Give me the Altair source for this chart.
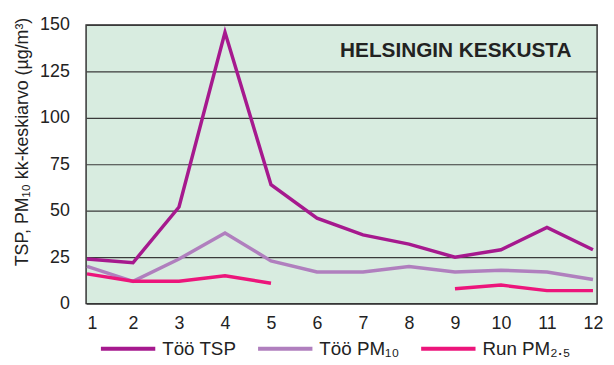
import altair as alt
import pandas as pd

months = list(range(1, 13))
tsp = [24, 22, 52, 146, 64, 46, 37, 32, 25, 29, 41, 29]
pm10 = [20, 12, 24, 38, 23, 17, 17, 20, 17, 18, 17, 13]
pm25 = [16, 12, 12, 15, 11, None, None, None, 8, 10, 7, 7]
series = ["Töö TSP", "Töö PM₁₀", "Run PM₂.₅"]
colors = ["#a6198e", "#b07fbe", "#ec157b"]

rows = []
for name, vals in zip(series, [tsp, pm10, pm25]):
    for m, v in zip(months, vals):
        rows.append({"kk": m, "arvo": v, "sarja": name})
df = pd.DataFrame(rows)

chart = alt.Chart(df).mark_line(strokeWidth=3.5, invalid="break-paths-show-domains").encode(
    x=alt.X("kk:Q", scale=alt.Scale(domain=[0.98, 12.09], nice=False, zero=False),
            axis=alt.Axis(values=months, title=None, grid=False, ticks=False, domain=False,
                          labelFontSize=18, labelPadding=11, labelColor="#222",
                          labelFont="Liberation Sans")),
    y=alt.Y("arvo:Q", scale=alt.Scale(domain=[0, 150], nice=False),
            axis=alt.Axis(values=[0, 25, 50, 75, 100, 125, 150],
                          title="TSP, PM₁₀ kk-keskiarvo (µg/m³)",
                          titleFontSize=18, titleFontWeight="normal", titleColor="#222",
                          titleFont="Liberation Sans", titleX=-64, titleY=118,
                          titleBaseline="middle", titleAlign="center",
                          ticks=False, domain=False, labelFontSize=18, labelPadding=17,
                          labelColor="#222", labelFont="Liberation Sans",
                          gridColor="#3a3a3a", gridWidth=1.2)),
    color=alt.Color("sarja:N", scale=alt.Scale(domain=series, range=colors),
                    sort=series,
                    legend=alt.Legend(title=None, orient="none", direction="horizontal",
                                      legendX=13, legendY=298, symbolType="stroke",
                                      symbolSize=3025, symbolStrokeWidth=4,
                                      labelFontSize=19, labelFont="Liberation Sans",
                                      labelColor="#222", labelOffset=5,
                                      columnPadding=14, padding=0)),
).properties(
    width=517, height=282,
    autosize=alt.AutoSizeParams(type="none"),
    padding={"left": 79, "top": 15, "right": 9, "bottom": 58},
    title=alt.TitleParams("HELSINGIN KESKUSTA", anchor="end", frame="group",
                          fontSize=21, font="Liberation Sans", fontWeight="bold",
                          color="#222", baseline="alphabetic", offset=0, dy=63, dx=-26),
).configure_view(
    fill="#d8ece0", stroke="#333333", strokeWidth=1.5
)

chart.save("out.html", embed_options={"renderer": "svg", "actions": False})
